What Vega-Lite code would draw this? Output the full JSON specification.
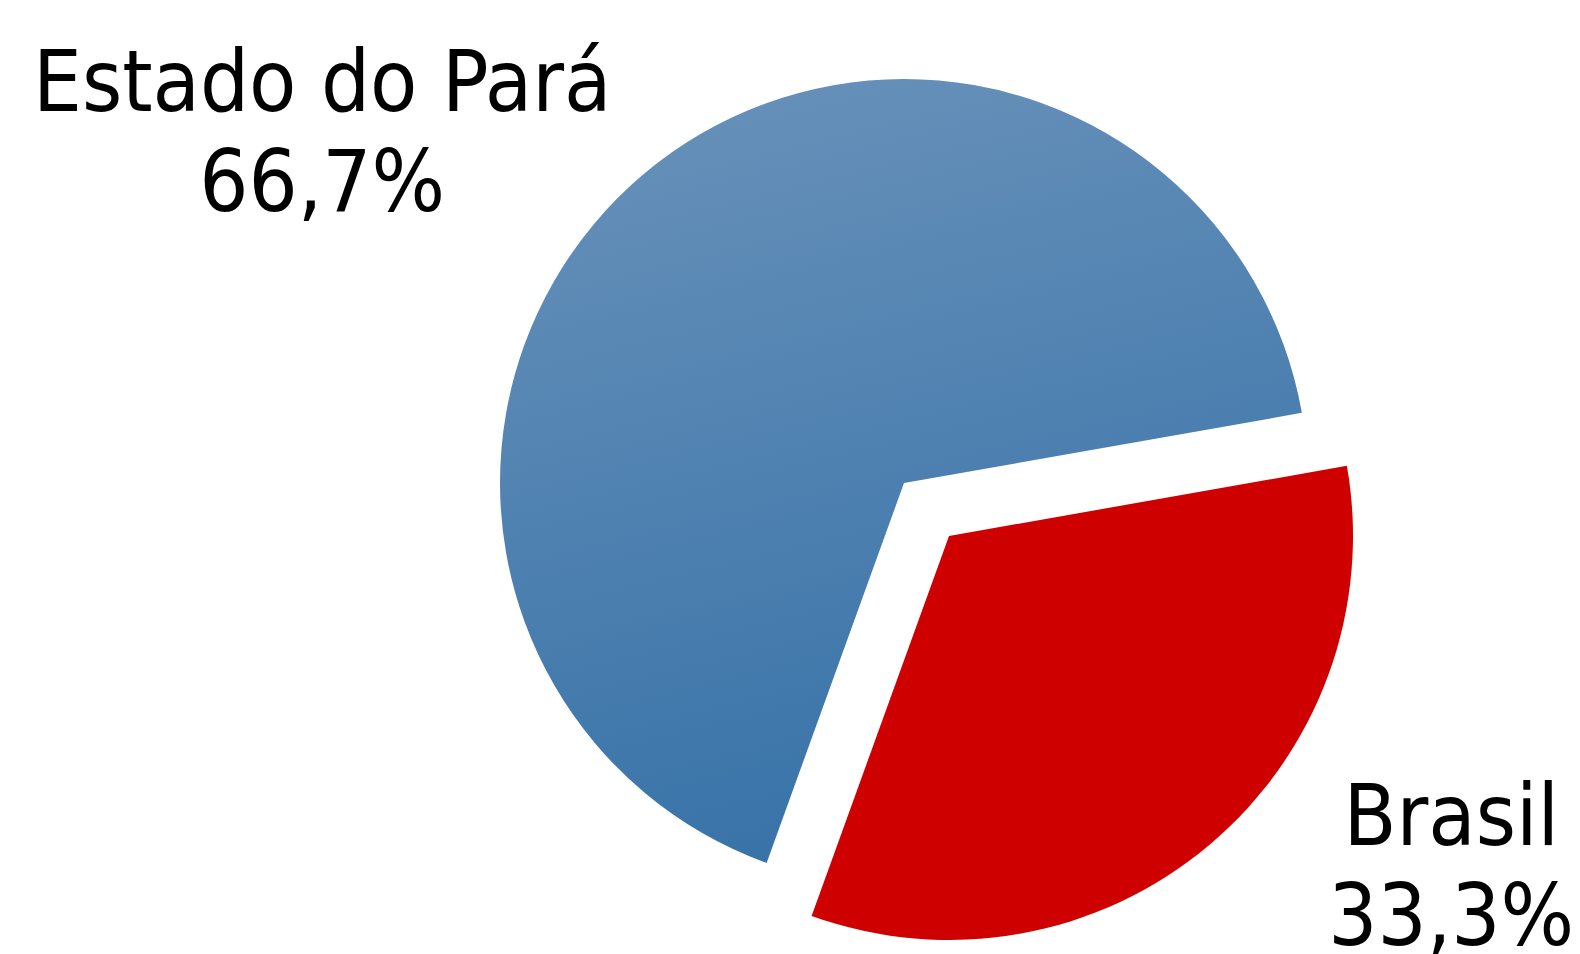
{
  "$schema": "https://vega.github.io/schema/vega-lite/v6.json",
  "width": 1352,
  "height": 942,
  "autosize": "none",
  "padding": {"left": 228, "top": 12, "right": 0, "bottom": 0},
  "background": "white",
  "config": {"view": {"stroke": null}},
  "data": {"values": [
    {"regiao": "Brasil", "pct": 33.3},
    {"regiao": "Estado do Pará", "pct": 66.7}
  ]},
  "transform": [
    {"stack": "pct", "groupby": [], "sort": [{"field": "regiao", "order": "ascending"}], "as": ["v0", "v1"]},
    {"calculate": "(datum.v0 + datum.v1) / 2", "as": "mid"},
    {"calculate": "[datum.regiao, replace(format(datum.pct, '.1f'), '.', ',') + '%']", "as": "rotulo"}
  ],
  "layer": [
    {
      "transform": [{"filter": "datum.regiao === 'Estado do Pará'"}],
      "mark": {
        "type": "arc", "radius": 404,
        "color": {"gradient": "linear", "x1": 0.35, "y1": 0, "x2": 0.6, "y2": 1,
          "stops": [{"offset": 0, "color": "#6690b9"}, {"offset": 1, "color": "#3571a7"}]}
      },
      "encoding": {
        "theta": {"field": "v0", "type": "quantitative", "scale": {"domain": [0, 100], "range": [1.3963, 7.6795]}},
        "theta2": {"field": "v1"}
      }
    },
    {
      "transform": [{"filter": "datum.regiao === 'Brasil'"}],
      "mark": {"type": "arc", "radius": 404, "color": "#cf0000", "xOffset": 45, "yOffset": 53},
      "encoding": {
        "theta": {"field": "v0", "type": "quantitative", "scale": {"domain": [0, 100], "range": [1.3963, 7.6795]}},
        "theta2": {"field": "v1"}
      }
    },
    {
      "transform": [{"filter": "datum.regiao === 'Estado do Pará'"}],
      "mark": {"type": "text", "radius": 674, "thetaOffset": -0.328, "dx": -5, "dy": -49, "font": "DejaVu Sans Condensed", "fontSize": 86, "align": "center", "baseline": "middle", "lineHeight": 100, "color": "black"},
      "encoding": {
        "theta": {"field": "mid", "type": "quantitative", "scale": {"domain": [0, 100], "range": [1.3963, 7.6795]}},
        "text": {"field": "rotulo"}
      }
    },
    {
      "transform": [{"filter": "datum.regiao === 'Brasil'"}],
      "mark": {"type": "text", "radius": 599, "thetaOffset": -0.283, "xOffset": 45, "yOffset": 53, "dx": 4, "dy": -50, "font": "DejaVu Sans Condensed", "fontSize": 86, "align": "center", "baseline": "middle", "lineHeight": 100, "color": "black"},
      "encoding": {
        "theta": {"field": "mid", "type": "quantitative", "scale": {"domain": [0, 100], "range": [1.3963, 7.6795]}},
        "text": {"field": "rotulo"}
      }
    }
  ]
}
